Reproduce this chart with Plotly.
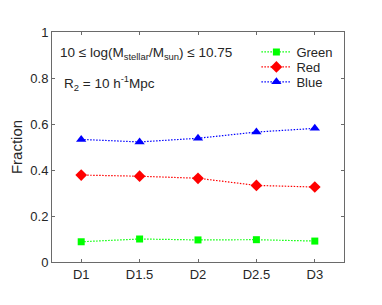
import plotly.graph_objects as go

categories = ["D1", "D1.5", "D2", "D2.5", "D3"]
green = [0.088, 0.100, 0.096, 0.097, 0.091]
red = [0.378, 0.373, 0.364, 0.333, 0.326]
blue = [0.533, 0.522, 0.538, 0.565, 0.581]
y_ticks = [0, 0.2, 0.4, 0.6, 0.8, 1]
y_ticktext = ["0", "0.2", "0.4", "0.6", "0.8", "1"]

FONT = "Liberation Sans, Arial, Helvetica, sans-serif"
TXT = "#262626"
AX = "#6a6a6a"
DOT = "1.5px,1.5px"

fig = go.Figure()
fig.add_trace(go.Scatter(x=categories, y=green, name="Green", mode="lines+markers", legend="legend",
                         line=dict(color="#00ff00", width=1.2, dash=DOT),
                         marker=dict(symbol="square", size=7, color="#00ff00")))
fig.add_trace(go.Scatter(x=categories, y=red, name="Red", mode="lines+markers", legend="legend2",
                         line=dict(color="#ff0000", width=1.2, dash=DOT),
                         marker=dict(symbol="diamond", size=9, color="#ff0000")))
fig.add_trace(go.Scatter(x=categories, y=blue, name="Blue", mode="lines+markers", legend="legend3",
                         line=dict(color="#0000ff", width=1.2, dash=DOT),
                         marker=dict(symbol="triangle-up", size=9, color="#0000ff")))

def leg(y):
    return dict(x=0.70, y=y, xanchor="left", yanchor="middle",
                bgcolor="rgba(0,0,0,0)", font=dict(size=13, color=TXT), itemwidth=30)

# page body has an 8px margin: shift the figure's plot area up/left by 8px
fig.update_layout(
    width=382, height=305,
    margin=dict(l=44, r=46, t=24, b=51, autoexpand=False),
    paper_bgcolor="white", plot_bgcolor="white",
    font=dict(family=FONT, size=13, color=TXT),
    showlegend=True,
    legend=leg(0.913), legend2=leg(0.848), legend3=leg(0.783),
    xaxis=dict(type="category", range=[-0.5, 4.5], showline=True, linecolor=AX, linewidth=1,
               mirror="ticks", ticks="inside", ticklen=3, tickcolor=AX, automargin=False,
               showgrid=False, zeroline=False, tickfont=dict(size=13, color=TXT)),
    yaxis=dict(range=[0, 1], tickvals=y_ticks, ticktext=y_ticktext, showline=True,
               linecolor=AX, linewidth=1, mirror="ticks", ticks="inside", ticklen=3,
               tickcolor=AX, showgrid=False, zeroline=False, automargin=False,
               title=dict(text="Fraction", font=dict(size=15, color=TXT), standoff=6),
               tickfont=dict(size=13, color=TXT)),
)

fig.add_annotation(xref="paper", yref="paper", x=0.022, y=0.905, xanchor="left", yanchor="middle",
                   text="10 ≤ log(M<sub>stellar</sub>/M<sub>sun</sub>) ≤ 10.75", showarrow=False,
                   font=dict(size=13.5, color=TXT))
fig.add_annotation(xref="paper", yref="paper", x=0.034, y=0.78, xanchor="left", yanchor="middle",
                   text="R<sub>2</sub> = 10 h<sup>-1</sup>Mpc", showarrow=False,
                   font=dict(size=13.5, color=TXT))

fig.write_html("out.html")
